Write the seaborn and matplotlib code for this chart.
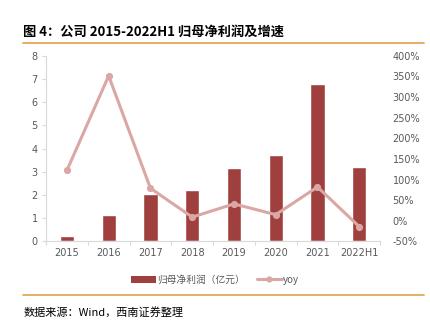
import matplotlib
matplotlib.use("Agg")
import matplotlib.pyplot as plt
import seaborn as sns
import pandas as pd
import numpy as np
from matplotlib.lines import Line2D
from matplotlib.patches import Patch
from matplotlib.ticker import FuncFormatter, FixedLocator

sns.set_theme(style="white")
plt.rcParams['font.family'] = ['Noto Sans CJK SC', 'DejaVu Sans']

categories = ["2015", "2016", "2017", "2018", "2019", "2020", "2021", "2022H1"]
net_profit = [0.23, 1.13, 2.04, 2.22, 3.17, 3.73, 6.77, 3.20]
yoy = [122, 351, 79, 9, 41, 15, 82, -14]
left_ticks = [0, 1, 2, 3, 4, 5, 6, 7, 8]
right_ticks = [-50, 0, 50, 100, 150, 200, 250, 300, 350, 400]

bar_color = "#A0403E"
line_color = "#DBA7A5"
tick_color = "#595959"
axis_color = "#D9D9D9"
orange = "#E3A857"

df = pd.DataFrame({"year": categories, "profit": net_profit, "yoy": yoy})

fig = plt.figure(figsize=(4.30, 3.29), dpi=100)
ax = fig.add_axes([0.107, 0.266, 0.777, 0.565])

sns.barplot(data=df, x="year", y="profit", color=bar_color, saturation=1,
            width=0.34, ax=ax, zorder=2)
ax.set_ylim(0, 8)
ax.set_xlim(-0.5, len(categories) - 0.5)
ax.yaxis.set_major_locator(FixedLocator(left_ticks))
ax.set_xlabel("")
ax.set_ylabel("")

ax2 = ax.twinx()
sns.pointplot(data=df, x="year", y="yoy", color=line_color, ax=ax2,
              markers="o", markersize=3.5, linewidth=2.2, zorder=3)
ax2.set_ylim(-50, 400)
ax2.set_xlim(-0.5, len(categories) - 0.5)
ax2.yaxis.set_major_locator(FixedLocator(right_ticks))
ax2.yaxis.set_major_formatter(FuncFormatter(lambda v, p: f"{int(v)}%"))
ax2.set_xlabel("")
ax2.set_ylabel("")

for a in (ax, ax2):
    for s in ["top", "right"]:
        a.spines[s].set_visible(False)
ax2.spines["left"].set_visible(False)
ax2.spines["bottom"].set_visible(False)
ax.spines["left"].set_color(axis_color)
ax.spines["bottom"].set_color(axis_color)
ax.spines["left"].set_linewidth(0.8)
ax.spines["bottom"].set_linewidth(0.8)

ax.tick_params(axis="y", which="major", left=True, length=3, width=0.8,
               color=axis_color, labelsize=7, labelcolor=tick_color, pad=3)
ax.tick_params(axis="x", which="major", bottom=False, length=0, labelsize=7,
               labelcolor=tick_color, pad=5)
ax.xaxis.set_minor_locator(FixedLocator(np.arange(-0.5, len(categories), 1.0)))
ax.tick_params(axis="x", which="minor", bottom=True, length=3, width=0.8,
               color=axis_color)
ax2.tick_params(axis="y", right=False, length=0, labelsize=7,
                labelcolor=tick_color, pad=9)
for lab in ax.get_xticklabels() + ax.get_yticklabels() + ax2.get_yticklabels():
    lab.set_fontfamily(["DejaVu Sans"])

handles = [Patch(facecolor=bar_color, edgecolor="none"),
           Line2D([0], [0], color=line_color, lw=2.2, marker="o", markersize=3.5)]
labels = ["归母净利润（亿元）", "yoy"]
fig.legend(handles, labels, loc="center", bbox_to_anchor=(0.5, 0.150), ncol=2,
           frameon=False, fontsize=7, labelcolor=tick_color, handlelength=2.6,
           handletextpad=0.1, columnspacing=1.2, handleheight=0.8)

fig.text(0.053, 0.905, "图 4：公司 2015-2022H1 归母净利润及增速", fontsize=9.5,
         fontweight="bold", va="center", ha="left", color="black")
fig.add_artist(Line2D([0.053, 0.985], [0.870, 0.870], color=orange, lw=1.3))
fig.add_artist(Line2D([0.053, 0.985], [0.103, 0.103], color=orange, lw=1.3))
fig.text(0.055, 0.052, "数据来源：Wind，西南证券整理", fontsize=8, style="italic",
         va="center", ha="left", color="black")

fig.savefig("out.png", dpi=100)
